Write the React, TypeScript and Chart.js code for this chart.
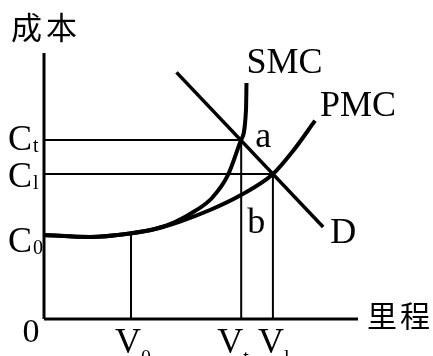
import React, { useEffect, useRef } from "react";
import { Chart, registerables } from "chart.js";
Chart.register(...registerables);

const xMax = 100;
const yMax = 100;

const yTickMain = ["C", "C", "C"];
const yTickSub = ["t", "l", "0"];
const yTickValues = [67.3, 54.5, 31.6];

const xTickMain = ["V", "V", "V"];
const xTickSub = ["0", "t", "l"];
const xTickValues = [27.7, 62.8, 72.9];

const smcX = [0, 14.65, 27.39, 35.35, 41.72, 48.09, 53.5, 58.6, 62.74, 64.33, 64.49];
const smcY = [31.58, 30.83, 32.14, 33.83, 36.47, 40.6, 45.49, 54.14, 67.29, 78.57, 88.72];

const pmcX = [0, 14.65, 27.39, 35.35, 43.31, 52.87, 62.74, 72.93, 79.3, 86.31];
const pmcY = [31.58, 30.83, 32.14, 33.83, 36.65, 40.98, 46.62, 54.51, 63.16, 74.55];

const dX = [42.2, 88.9];
const dY = [92.7, 34.6];

const v0Top = 32.1;

const curveLabels = ["SMC", "PMC", "D", "a", "b"];
const axisTitles = ["成本", "里程"];

const zip = (xs: number[], ys: number[]) => xs.map((x, i) => ({ x, y: ys[i] }));

const SERIF = "'Liberation Serif', 'Times New Roman', serif";
const CJK = "'Noto Sans CJK SC', sans-serif";

const labelPlugin = {
  id: "econLabels",
  afterDatasetsDraw(chart: any) {
    const { ctx, scales } = chart;
    const xs = scales.x;
    const ys = scales.y;
    const px = (v: number) => xs.getPixelForValue(v);
    const py = (v: number) => ys.getPixelForValue(v);
    const ax = px(0);
    const ay = py(0);
    ctx.save();
    ctx.fillStyle = "#000";
    ctx.textAlign = "left";
    ctx.textBaseline = "alphabetic";

    // y tick labels
    const yOff = [10, 13, 17];
    yTickValues.forEach((v, i) => {
      const base = py(v) + yOff[i];
      ctx.font = `36px ${SERIF}`;
      ctx.fillText(yTickMain[i], ax - 36, base);
      const w = ctx.measureText(yTickMain[i]).width;
      ctx.font = `20px ${SERIF}`;
      ctx.fillText(yTickSub[i], ax - 36 + w + 1, base + 2);
    });

    // origin
    ctx.font = `34px ${SERIF}`;
    ctx.textAlign = "center";
    ctx.fillText("0", ax - 13, ay + 23);
    ctx.textAlign = "left";

    // x tick labels
    const xOff = [-16, -24, -15];
    xTickValues.forEach((v, i) => {
      const left = px(v) + xOff[i];
      const base = ay + 34;
      ctx.font = `36px ${SERIF}`;
      ctx.fillText(xTickMain[i], left, base);
      const w = ctx.measureText(xTickMain[i]).width;
      ctx.font = `20px ${SERIF}`;
      ctx.fillText(xTickSub[i], left + w, base + 11);
    });

    // curve labels
    ctx.font = `36px ${SERIF}`;
    const smcTop = { x: px(smcX[smcX.length - 1]), y: py(smcY[smcY.length - 1]) };
    ctx.fillText(curveLabels[0], smcTop.x, smcTop.y - 10);
    const pmcEnd = { x: px(pmcX[pmcX.length - 1]), y: py(pmcY[pmcY.length - 1]) };
    ctx.fillText(curveLabels[1], pmcEnd.x + 5, pmcEnd.y - 5);
    const dEnd = { x: px(dX[1]), y: py(dY[1]) };
    ctx.fillText(curveLabels[2], dEnd.x + 7, dEnd.y + 16);
    ctx.fillText(curveLabels[3], px(xTickValues[1]) + 14, py(yTickValues[0]) + 7);
    ctx.fillText(curveLabels[4], px(xTickValues[1]) + 6, py(yTickValues[2]) - 2);

    // axis titles
    ctx.font = `31px ${CJK}`;
    ctx.textBaseline = "middle";
    const t0 = Array.from(axisTitles[0]);
    ctx.fillText(t0[0], ax - 33, 27);
    ctx.fillText(t0[1], ax + 2, 27);
    const t1 = Array.from(axisTitles[1]);
    ctx.font = `30px ${CJK}`;
    ctx.fillText(t1[0], px(xMax) + 9, ay - 3);
    ctx.fillText(t1[1], px(xMax) + 42, ay - 3);
    ctx.restore();
  },
};

export default function App() {
  const ref = useRef<HTMLCanvasElement | null>(null);
  useEffect(() => {
    if (!ref.current) return;
    const line = (data: any[], width: number, smooth = false) => ({
      data,
      borderColor: "#000",
      backgroundColor: "#000",
      borderWidth: width,
      pointRadius: 0,
      showLine: true,
      tension: smooth ? 0.4 : 0,
      cubicInterpolationMode: smooth ? "monotone" : "default",
      clip: false,
      borderCapStyle: "butt",
    });
    const [ct, cl] = yTickValues;
    const [v0, vt, vl] = xTickValues;
    const chart = new Chart(ref.current, {
      type: "scatter",
      data: {
        datasets: [
          line(zip(smcX, smcY), 4, true),
          line(zip(pmcX, pmcY), 4, true),
          line(zip(dX, dY), 3.5),
          line([{ x: 0, y: 0 }, { x: 0, y: yMax }], 3),
          line([{ x: 0, y: 0 }, { x: xMax, y: 0 }], 3),
          line([{ x: 0, y: ct }, { x: vt, y: ct }], 2),
          line([{ x: 0, y: cl }, { x: vl, y: cl }], 2),
          line([{ x: v0, y: 0 }, { x: v0, y: v0Top }], 2),
          line([{ x: vt, y: 0 }, { x: vt, y: ct }], 2),
          line([{ x: vl, y: 0 }, { x: vl, y: cl }], 2),
        ] as any,
      },
      options: {
        animation: false,
        responsive: false,
        devicePixelRatio: 1,
        layout: { padding: { left: 44, right: 75, top: 53, bottom: 37 } },
        plugins: { legend: { display: false }, tooltip: { enabled: false } },
        scales: {
          x: { type: "linear", min: 0, max: xMax, display: false },
          y: { type: "linear", min: 0, max: yMax, display: false },
        },
      },
      plugins: [labelPlugin],
    });
    return () => chart.destroy();
  }, []);
  return (
    <div style={{ position: "absolute", left: 0, top: 0, width: 433, height: 356, background: "#fff" }}>
      <canvas ref={ref} width={433} height={356} />
    </div>
  );
}
